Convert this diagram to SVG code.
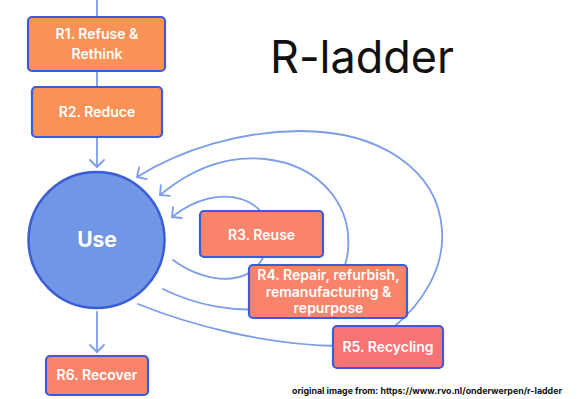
<svg xmlns="http://www.w3.org/2000/svg" width="582" height="399" viewBox="0 0 582 399">
<style>
.conn{fill:none;stroke:#7C9DEA;stroke-width:1.8;stroke-linecap:round}
.box{stroke:#3B5BDB;stroke-width:2.2}
.orange{fill:#FA9157}
.salmon{fill:#F9846B}
.red{fill:#F87474}
.lbl{font-family:Inter,"Liberation Sans",sans-serif;font-weight:600;font-size:14px;fill:#FFFFFF;text-anchor:middle}
</style>
<defs>
<marker id="arr" markerUnits="userSpaceOnUse" markerWidth="20" markerHeight="20" viewBox="-10 -10 20 20" refX="0" refY="0" orient="auto">
<path d="M-7,-7 L0,0 L-7,7" fill="none" stroke="#7C9DEA" stroke-width="1.8" stroke-linecap="round" stroke-linejoin="round"/>
</marker>
</defs>
<rect width="582" height="399" fill="#FFFFFF"/>
<g id="connectors">
<path class="conn" d="M97,0 L97,17"/>
<path class="conn" d="M97,71 L97,87"/>
<path class="conn" d="M97,137 L97,167" marker-end="url(#arr)"/>
<path class="conn" d="M97,312 L97,352" marker-end="url(#arr)"/>
<path class="conn" d="M173,260 C208,286 262,290 268,240 C275,200 220,178 172,217" marker-end="url(#arr)"/>
<path class="conn" d="M163,289 C195,305 235,313 270,308 C320,300 345,285 348,250 C352,205 320,165 265,159 C225,155 190,170 160,195" marker-end="url(#arr)"/>
<path class="conn" d="M138,304 C190,325 265,345 340,346 C365,346 380,335 395,326 C420,305 445,270 442,230 C438,170 380,131 300,131 C240,131 180,150 137,177" marker-end="url(#arr)"/>
</g>
<g id="r1">
<rect class="box orange" x="28" y="17" width="137" height="54" rx="4"/>
<text class="lbl" x="97" y="39">R1. Refuse &amp;</text>
<text class="lbl" x="97" y="59">Rethink</text>
</g>
<g id="r2">
<rect class="box orange" x="32" y="87" width="130" height="50" rx="4"/>
<text class="lbl" x="97" y="117">R2. Reduce</text>
</g>
<g id="use">
<circle cx="96.5" cy="240" r="68" fill="#7096E6" stroke="#3A5CD6" stroke-width="2.5"/>
<text x="97" y="247" font-family="Inter,'Liberation Sans',sans-serif" font-weight="700" font-size="21" fill="#FFFFFF" text-anchor="middle">Use</text>
</g>
<g id="r3">
<rect class="box salmon" x="200" y="211" width="123" height="46" rx="4"/>
<text class="lbl" x="261.5" y="240">R3. Reuse</text>
</g>
<g id="r4">
<rect class="box salmon" x="249" y="265" width="158" height="53" rx="4"/>
<text class="lbl" x="328.5" y="280">R4. Repair, refurbish,</text>
<text class="lbl" x="328.5" y="296.5">remanufacturing &amp;</text>
<text class="lbl" x="328.5" y="313">repurpose</text>
</g>
<g id="r5">
<rect class="box red" x="333" y="326" width="110" height="42" rx="4"/>
<text class="lbl" x="388" y="352">R5. Recycling</text>
</g>
<g id="r6">
<rect class="box salmon" x="46" y="356" width="102" height="39" rx="4"/>
<text class="lbl" x="97" y="380">R6. Recover</text>
</g>
<g id="title">
<text x="362" y="73" font-family="Inter,'Liberation Sans',sans-serif" font-weight="400" font-size="45" fill="#111111" text-anchor="middle">R-ladder</text>
</g>
<g id="source">
<text x="292" y="394" font-family="Inter,'Liberation Sans',sans-serif" font-weight="700" font-size="9" fill="#111111" textLength="270" lengthAdjust="spacingAndGlyphs">original image from: https://www.rvo.nl/onderwerpen/r-ladder</text>
</g>
</svg>
